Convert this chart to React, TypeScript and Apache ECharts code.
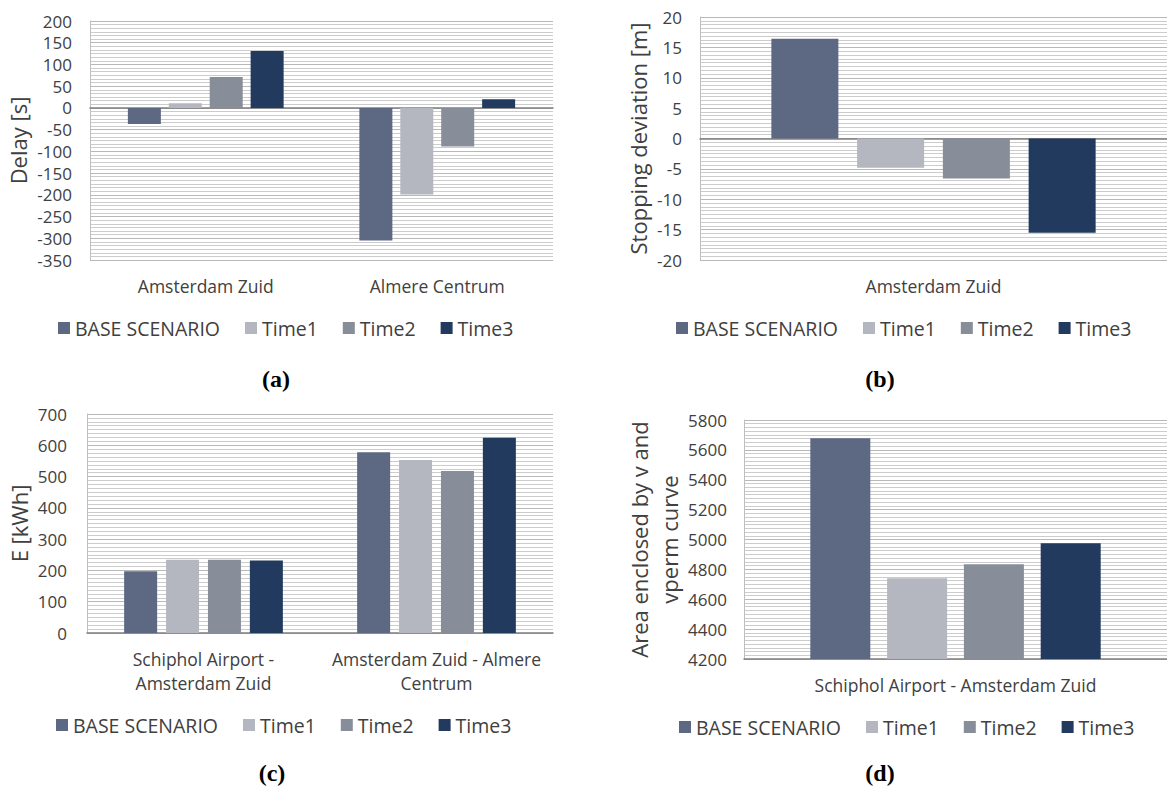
import React, { useEffect, useRef } from "react";
import * as echarts from "echarts";

const seriesNames = ["BASE SCENARIO", "Time1", "Time2", "Time3"];
const seriesColors = ["#5d6882", "#b4b7bf", "#888d9a", "#233a5f"];

// (a) Delay [s]
const delayCategories = ["Amsterdam Zuid", "Almere Centrum"];
const delayBase = [-37, -305];
const delayTime1 = [11, -199];
const delayTime2 = [71, -89];
const delayTime3 = [131, 20];

// (b) Stopping deviation [m]
const stopCategories = ["Amsterdam Zuid"];
const stopBase = [16.4];
const stopTime1 = [-4.8];
const stopTime2 = [-6.6];
const stopTime3 = [-15.5];

// (c) E [kWh]
const energyCategories = ["Schiphol Airport -\nAmsterdam Zuid", "Amsterdam Zuid - Almere\nCentrum"];
const energyBase = [197, 578];
const energyTime1 = [234, 553];
const energyTime2 = [234, 518];
const energyTime3 = [232, 624];

// (d) Area enclosed by v and vperm curve
const areaCategories = ["Schiphol Airport - Amsterdam Zuid"];
const areaBase = [5677];
const areaTime1 = [4741];
const areaTime2 = [4835];
const areaTime3 = [4975];

const captions = ["(a)", "(b)", "(c)", "(d)"];

const FONT = "Open Sans";
const TEXT = "#404040";

export default function App() {
  const ref = useRef<HTMLDivElement>(null);
  useEffect(() => {
    if (!ref.current) return;
    const chart = echarts.init(ref.current, null, { renderer: "svg" });

    const grids = [
      { left: 90, top: 21, width: 463, height: 239 },
      { left: 700, top: 17, width: 472, height: 243 },
      { left: 87, top: 414, width: 466, height: 219 },
      { left: 744, top: 420, width: 429, height: 239 },
    ];
    const cats = [delayCategories, stopCategories, energyCategories, areaCategories];
    const data = [
      [delayBase, delayTime1, delayTime2, delayTime3],
      [stopBase, stopTime1, stopTime2, stopTime3],
      [energyBase, energyTime1, energyTime2, energyTime3],
      [areaBase, areaTime1, areaTime2, areaTime3],
    ];
    const yRanges = [
      { min: -350, max: 200, interval: 50, minor: 6 },
      { min: -20, max: 20, interval: 5, minor: 8 },
      { min: 0, max: 700, interval: 100, minor: 8 },
      { min: 4200, max: 5800, interval: 200, minor: 8 },
    ];
    const yNames = ["Delay [s]", "Stopping deviation [m]", "E [kWh]", "Area enclosed by v and\nvperm curve"];
    const yNameGaps = [53, 43, 50, 50];
    const yLabelMargins = [18, 18, 20, 17];
    const barWidths = [33, 67, 33, 60];
    const barGaps = ["24%", "28%", "27%", "28%"];
    const legendPos = [
      { left: 53, top: 313 },
      { left: 671, top: 313 },
      { left: 51, top: 710 },
      { left: 674, top: 712 },
    ];
    const captionPos = [
      { x: 276, y: 379 },
      { x: 880, y: 379 },
      { x: 272, y: 773 },
      { x: 880, y: 773 },
    ];

    const xAxis = cats.map((c, i) => ({
      type: "category",
      gridIndex: i,
      data: c,
      axisTick: { show: false },
      axisLine: { show: true, onZero: true, lineStyle: { color: "#7f7f7f", width: 1.5 } },
      axisLabel: {
        color: TEXT,
        fontFamily: FONT,
        fontSize: 17.5,
        lineHeight: 24,
        margin: 14,
        interval: 0,
      },
      splitLine: { show: false },
    }));

    const yAxis = yRanges.map((r, i) => ({
      type: "value",
      gridIndex: i,
      min: r.min,
      max: r.max,
      interval: r.interval,
      name: yNames[i],
      nameLocation: "middle",
      nameRotate: 90,
      nameGap: yNameGaps[i],
      nameTextStyle: { color: TEXT, fontFamily: FONT, fontSize: 22, lineHeight: 30 },
      axisLine: { show: true, lineStyle: { color: "#bfbfbf", width: 1 } },
      axisTick: { show: false },
      axisLabel: {
        color: TEXT,
        fontFamily: FONT,
        fontSize: 17,
        margin: yLabelMargins[i],
        formatter: (v: number) => String(v),
      },
      splitLine: { show: true, lineStyle: { color: "#b8b8b8", width: 1 } },
      minorTick: { show: false, splitNumber: r.minor },
      minorSplitLine: { show: true, lineStyle: { color: "#cccccc", width: 1 } },
    }));

    const series: any[] = [];
    data.forEach((group, gi) => {
      group.forEach((vals, si) => {
        series.push({
          type: "bar",
          name: seriesNames[si],
          xAxisIndex: gi,
          yAxisIndex: gi,
          data: vals,
          barWidth: barWidths[gi],
          barGap: barGaps[gi],
          itemStyle: { color: seriesColors[si] },
          emphasis: { disabled: true },
        });
      });
    });

    const legend = legendPos.map((p) => ({
      left: p.left,
      top: p.top,
      orient: "horizontal",
      data: seriesNames.map((n) => ({ name: n, icon: "rect" })),
      itemWidth: 12,
      itemHeight: 12,
      itemGap: 25,
      selectedMode: false,
      textStyle: { color: TEXT, fontFamily: FONT, fontSize: 19.5 },
    }));

    const graphic = captions.map((c, i) => ({
      type: "text",
      x: captionPos[i].x,
      y: captionPos[i].y,
      style: {
        text: c,
        fill: "#000",
        font: "bold 24px 'Liberation Serif', serif",
        align: "center",
        verticalAlign: "middle",
      },
    }));

    chart.setOption({
      animation: false,
      color: seriesColors,
      grid: grids.map((g) => ({ ...g, containLabel: false })),
      xAxis,
      yAxis,
      legend,
      series,
      graphic,
    });
    return () => chart.dispose();
  }, []);
  return (
    <div
      ref={ref}
      style={{ position: "fixed", left: 0, top: 0, width: 1167, height: 792, background: "#fff" }}
    />
  );
}
